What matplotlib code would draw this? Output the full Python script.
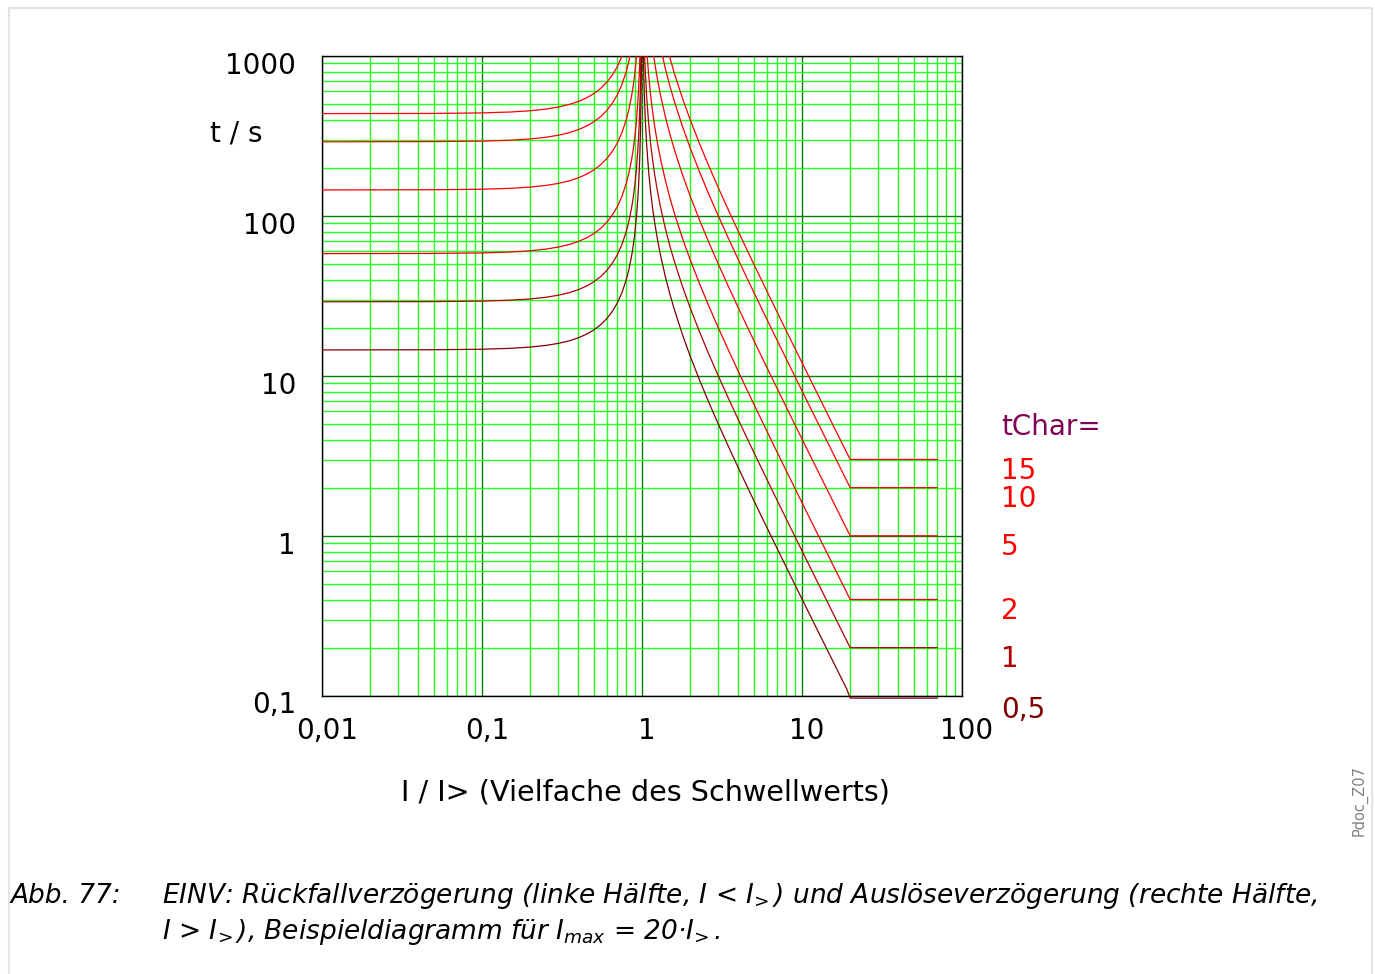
import matplotlib
matplotlib.use('Agg')
import matplotlib.pyplot as plt
from matplotlib import transforms
from matplotlib.lines import Line2D
from matplotlib.patches import Rectangle
from matplotlib.ticker import NullFormatter

plt.rcParams['font.family'] = ['DejaVu Sans']
plt.rcParams['mathtext.fontset'] = 'custom'
plt.rcParams['mathtext.it'] = 'DejaVu Sans:italic'
plt.rcParams['mathtext.rm'] = 'DejaVu Sans:italic'

# I/I> below the threshold (reset side)
x_reset = [0.01, 0.05, 0.1, 0.15, 0.2, 0.25, 0.3, 0.35, 0.4, 0.45,
           0.5, 0.55, 0.6, 0.65, 0.7, 0.75, 0.8, 0.83, 0.86, 0.88,
           0.9, 0.92, 0.94, 0.95, 0.96, 0.97, 0.98, 0.99, 0.995]
# I/I> above the threshold (trip side), flat from Imax = 20 on
x_trip = [1.005, 1.01, 1.02, 1.03, 1.04, 1.05, 1.07, 1.1, 1.13, 1.16,
          1.2, 1.25, 1.3, 1.4, 1.5, 1.6, 1.8, 2, 2.3, 2.6,
          3, 3.5, 4, 4.5, 5, 6, 7, 8, 9, 10,
          11, 12, 13, 14, 15, 16, 17, 18, 19, 20, 70]

tchar_labels = ['15', '10', '5', '2', '1', '0,5']

reset_15 = [436.5, 437.6, 440.9, 446.6, 454.7, 465.6, 479.7, 497.4, 519.6, 547.4,
            582.0, 625.8, 682.1, 755.9, 855.9, 997.7, 1212.5, 1403.1, 1676.3, 1934.9,
            2297.4, 2841.8, 3750, 4476.9, 5567.6, 7385.9, 11023, 21935, 43760]
reset_10 = [291.0, 291.7, 293.9, 297.7, 303.1, 310.4, 319.8, 331.6, 346.4, 364.9,
            388.0, 417.2, 454.7, 503.9, 570.6, 665.1, 808.3, 935.4, 1117.5, 1289.9,
            1531.6, 1894.5, 2500, 2984.6, 3711.7, 4923.9, 7348.5, 14623, 29173]
reset_5 = [145.5, 145.9, 147.0, 148.9, 151.6, 155.2, 159.9, 165.8, 173.2, 182.5,
           194.0, 208.6, 227.4, 252.0, 285.3, 332.6, 404.2, 467.7, 558.8, 645.0,
           765.8, 947.3, 1250, 1492, 1856, 2462, 3674, 7312, 14587]
reset_2 = [58.20, 58.34, 58.78, 59.54, 60.62, 62.08, 63.96, 66.32, 69.28, 72.98,
           77.60, 83.44, 90.94, 100.8, 114.1, 133.0, 161.7, 187.1, 223.5, 258.0,
           306.3, 378.9, 500.0, 596.9, 742.3, 984.8, 1469.7, 2924.6, 5834.6]
reset_1 = [29.10, 29.17, 29.39, 29.77, 30.31, 31.04, 31.98, 33.16, 34.64, 36.49,
           38.80, 41.72, 45.47, 50.39, 57.06, 66.51, 80.83, 93.54, 111.75, 128.99,
           153.16, 189.45, 250.0, 298.46, 371.17, 492.39, 734.85, 1462.3, 2917.3]
reset_05 = [14.55, 14.59, 14.70, 14.89, 15.16, 15.52, 15.99, 16.58, 17.32, 18.25,
            19.40, 20.86, 22.74, 25.20, 28.53, 33.26, 40.42, 46.77, 55.88, 64.50,
            76.58, 94.73, 125.0, 149.2, 185.6, 246.2, 367.4, 731.2, 1458.7]

trip_15 = [119700, 59700, 29700, 19704, 14706, 11707, 8282, 5714, 4334, 3472,
           2727, 2133, 1739, 1250, 960.0, 769.2, 535.7, 400.0, 279.7, 208.3,
           150.0, 106.7, 80.00, 62.34, 50.00, 34.29, 25.00, 19.05, 15.00, 12.12,
           10.00, 8.392, 7.143, 6.154, 5.357, 4.706, 4.167, 3.715, 3.333, 3.008, 3.008]
trip_10 = [79800, 39800, 19800, 13136, 9804, 7805, 5521, 3810, 2889, 2315,
           1818, 1422, 1159, 833.3, 640.0, 512.8, 357.1, 266.7, 186.5, 138.9,
           100.0, 71.11, 53.33, 41.56, 33.33, 22.86, 16.67, 12.70, 10.00, 8.081,
           6.667, 5.594, 4.762, 4.103, 3.571, 3.137, 2.778, 2.477, 2.222, 2.005, 2.005]
trip_5 = [39900, 19900, 9901, 6568, 4902, 3902, 2761, 1905, 1445, 1157,
          909.1, 711.1, 579.7, 416.7, 320.0, 256.4, 178.6, 133.3, 93.24, 69.44,
          50.00, 35.56, 26.67, 20.78, 16.67, 11.43, 8.333, 6.349, 5.000, 4.040,
          3.333, 2.797, 2.381, 2.051, 1.786, 1.569, 1.389, 1.238, 1.111, 1.003, 1.003]
trip_2 = [15960, 7960, 3960, 2627, 1961, 1561, 1104, 761.9, 577.8, 463.0,
          363.6, 284.4, 231.9, 166.7, 128.0, 102.6, 71.43, 53.33, 37.30, 27.78,
          20.00, 14.22, 10.67, 8.312, 6.667, 4.571, 3.333, 2.540, 2.000, 1.616,
          1.333, 1.119, 0.9524, 0.8205, 0.7143, 0.6275, 0.5556, 0.4954, 0.4444, 0.4010, 0.4010]
trip_1 = [7980, 3980, 1980, 1313.6, 980.4, 780.5, 552.1, 381.0, 288.9, 231.5,
          181.8, 142.2, 115.9, 83.33, 64.00, 51.28, 35.71, 26.67, 18.65, 13.89,
          10.00, 7.111, 5.333, 4.156, 3.333, 2.286, 1.667, 1.270, 1.000, 0.8081,
          0.6667, 0.5594, 0.4762, 0.4103, 0.3571, 0.3137, 0.2778, 0.2477, 0.2222, 0.2005, 0.2005]
trip_05 = [3990, 1990, 990.1, 656.8, 490.2, 390.2, 276.1, 190.5, 144.5, 115.7,
           90.91, 71.11, 57.97, 41.67, 32.00, 25.64, 17.86, 13.33, 9.324, 6.944,
           5.000, 3.556, 2.667, 2.078, 1.667, 1.143, 0.8333, 0.6349, 0.5000, 0.4040,
           0.3333, 0.2797, 0.2381, 0.2051, 0.1786, 0.1569, 0.1389, 0.1238, 0.1111, 0.097, 0.097]

x_ticks = [0.01, 0.1, 1, 10, 100]
x_tick_labels = ['0,01', '0,1', '1', '10', '100']
y_ticks = [0.1, 1, 10, 100, 1000]
y_tick_labels = ['0,1', '1', '10', '100', '1000']

resets = [reset_15, reset_10, reset_5, reset_2, reset_1, reset_05]
trips = [trip_15, trip_10, trip_5, trip_2, trip_1, trip_05]
curve_colors = ['#ff0000', '#ff0000', '#ff0000', '#f00000', '#b00000', '#800000']
label_colors = ['#ff0000', '#ff0000', '#ff0000', '#ff0000', '#b00000', '#800000']

W, H = 1375, 974
fig = plt.figure(figsize=(W / 100, H / 100), dpi=100)
ax = fig.add_axes([322 / W, 1 - 696 / H, 640 / W, 640 / H])
ax.set_xscale('log')
ax.set_yscale('log')
ax.set_xlim(0.01, 100)
ax.set_ylim(0.1, 1000)

ax.grid(which='minor', color='#22ff22', lw=1.0)
ax.grid(which='major', color='#008000', lw=1.0)
ax.tick_params(which='both', length=0, labelbottom=False, labelleft=False)
ax.xaxis.set_minor_formatter(NullFormatter())
ax.yaxis.set_minor_formatter(NullFormatter())
for sp in ax.spines.values():
    sp.set_color('black')
    sp.set_linewidth(1.0)

# clip a little below the bottom so the 0,5 flat line stays visible
clip = Rectangle((0, -0.008), 1, 1.008, transform=ax.transAxes, visible=False)
ax.add_patch(clip)
for reset, trip, col in zip(resets, trips, curve_colors):
    l1, = ax.plot(x_reset, reset, color=col, lw=0.9, zorder=3)
    l2, = ax.plot(x_trip, trip, color=col, lw=0.9, zorder=3)
    l1.set_clip_path(clip)
    l2.set_clip_path(clip)

fs = 20
px = fig.dpi_scale_trans

# y tick labels
ytr = transforms.blended_transform_factory(ax.transAxes, ax.transData)
for v, lab in zip(y_ticks, y_tick_labels):
    ax.text(-26 / 640, v, lab, transform=ytr + transforms.ScaledTranslation(0, -17.5 / 100, px),
            ha='right', va='baseline', fontsize=fs)

# x tick labels
xtr = transforms.blended_transform_factory(ax.transData, ax.transAxes)
for v, lab in zip(x_ticks, x_tick_labels):
    ax.text(v, 0, lab, transform=xtr + transforms.ScaledTranslation(5 / 100, -43 / 100, px),
            ha='center', va='baseline', fontsize=fs)

fig.text(236 / W, 1 - 141.5 / H, 't / s', ha='center', va='baseline', fontsize=fs)
fig.text(645 / W, 1 - 800 / H, 'I / I> (Vielfache des Schwellwerts)', ha='center',
         va='baseline', fontsize=20.6)

# tChar labels next to the flat ends
fig.text(1001 / W, 1 - 427 / H, 'tChar=', ha='left', va='center', fontsize=fs, color='#800055')
lab_tr = transforms.blended_transform_factory(fig.transFigure, ax.transData)
for trip, lab, col in zip(trips, tchar_labels, label_colors):
    ax.text(1001 / W, trip[-1], lab,
            transform=lab_tr + transforms.ScaledTranslation(0, -11.5 / 100, px),
            ha='left', va='center', fontsize=fs, color=col, clip_on=False)

# caption
cap_fs = 19
fig.text(10 / W, 1 - 903 / H, 'Abb. 77:', ha='left', va='baseline', fontsize=cap_fs,
         style='italic')
fig.text(162 / W, 1 - 903 / H,
         r'EINV: Rückfallverzögerung (linke Hälfte, $I$ < $I_{\!>}$) und '
         'Auslöseverzögerung (rechte Hälfte,',
         ha='left', va='baseline', fontsize=cap_fs, style='italic')
fig.text(162 / W, 1 - 939 / H,
         r'$I$ > $I_{\!>}$), Beispieldiagramm für $I_{max}$ = 20·$I_{\!>}$.',
         ha='left', va='baseline', fontsize=cap_fs, style='italic')

fig.text(1360 / W, 1 - 800 / H, 'Pdoc_Z07', rotation=90, ha='center', va='center',
         fontsize=10.5, color='#808080')

# page frame
fc = '#e4e4e4'
fig.add_artist(Line2D([9 / W, 9 / W], [0, 1 - 8 / H], transform=fig.transFigure, color=fc, lw=1.5))
fig.add_artist(Line2D([1372 / W, 1372 / W], [0, 1 - 8 / H], transform=fig.transFigure, color=fc, lw=1.5))
fig.add_artist(Line2D([9 / W, 1372 / W], [1 - 8 / H, 1 - 8 / H], transform=fig.transFigure, color=fc, lw=1.5))

fig.savefig('out.png', dpi=100)
